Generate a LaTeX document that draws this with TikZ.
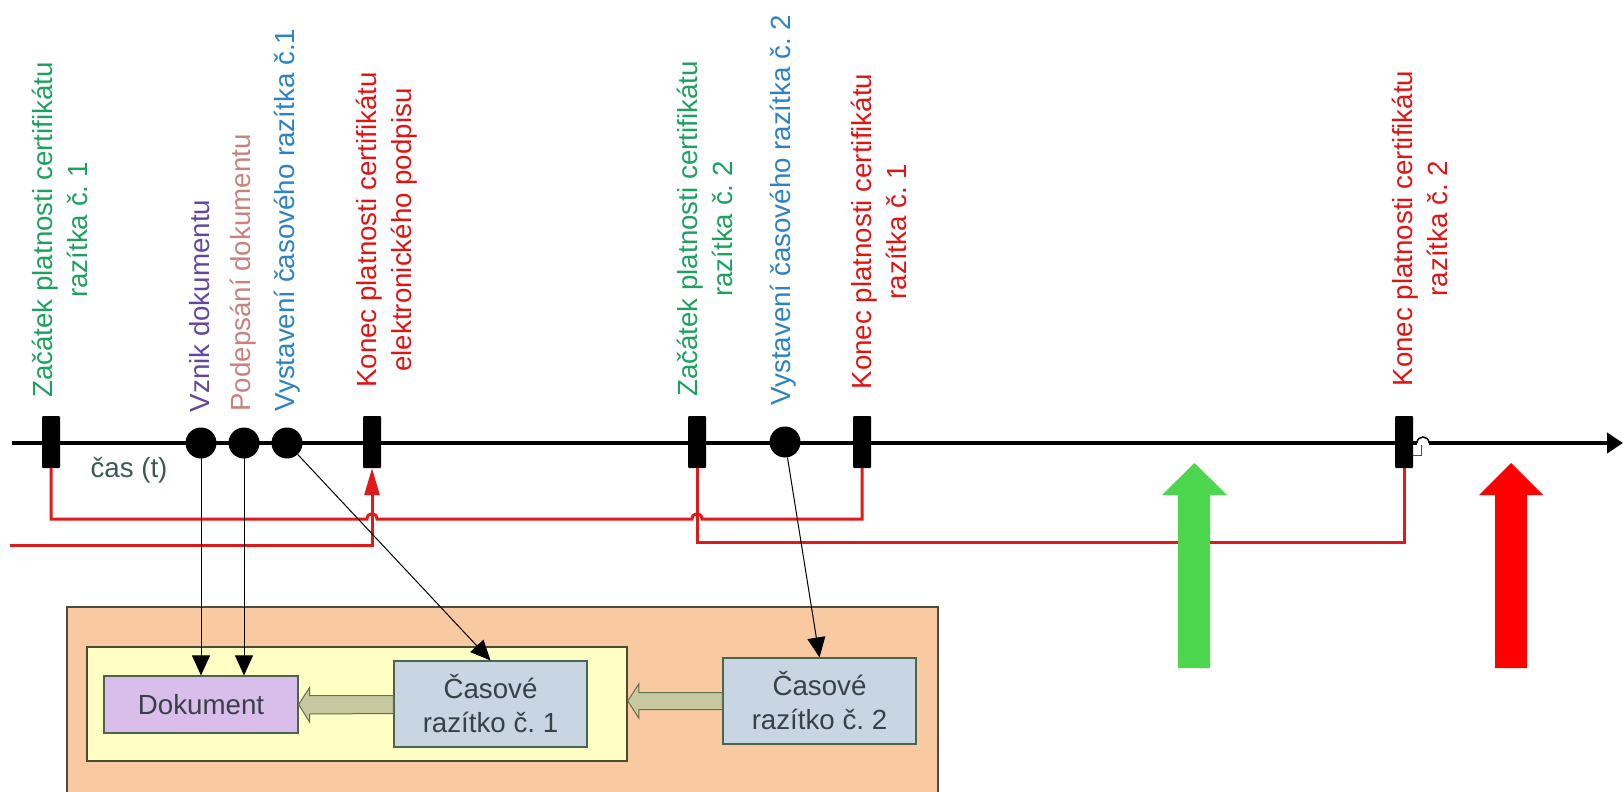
\documentclass[tikz,border=0pt]{standalone}
\usepackage{fontspec}
\setmainfont{Liberation Sans}
\usetikzlibrary{arrows.meta,calc}
\definecolor{lgreen}{RGB}{30,160,95}
\definecolor{lpurple}{RGB}{100,70,160}
\definecolor{lrose}{RGB}{200,130,125}
\definecolor{lblue}{RGB}{45,130,195}
\definecolor{lred}{RGB}{225,20,20}
\definecolor{cline}{RGB}{225,25,25}
\definecolor{castext}{RGB}{60,90,80}
\definecolor{outerfill}{RGB}{249,201,162}
\definecolor{outerdraw}{RGB}{80,75,65}
\definecolor{yelfill}{RGB}{255,255,196}
\definecolor{yeldraw}{RGB}{75,75,50}
\definecolor{docfill}{RGB}{217,190,235}
\definecolor{boxdraw}{RGB}{75,100,80}
\definecolor{tsfill}{RGB}{200,213,226}
\definecolor{boxtext}{RGB}{55,65,70}
\definecolor{hollowfill}{RGB}{200,200,160}
\definecolor{hollowdraw}{RGB}{100,110,80}
\definecolor{biggreen}{RGB}{76,215,78}
\definecolor{bigred}{RGB}{255,0,0}
\frenchspacing
\begin{document}
\begin{tikzpicture}[x=1pt,y=-1pt,
  lbl/.style={rotate=90,align=center,inner sep=0pt,font=\fontsize{27.7}{35}\selectfont},
  marker/.style={fill=black,draw=none,minimum width=18pt,minimum height=52pt,inner sep=0pt,rounded corners=1pt},
  dot/.style={circle,fill=black,minimum size=31pt,inner sep=0pt},
  box/.style={draw=boxdraw,line width=1.2pt,inner sep=0pt,align=center,text=boxtext,font=\fontsize{27.7}{34}\selectfont},
  redline/.style={color=cline,line width=3pt},
  conn/.style={draw=black,line width=1pt,-{Triangle[length=20pt,width=18pt]}},
  hollow/.style={fill=hollowfill,draw=hollowdraw,line width=1pt},
]
\path[use as bounding box] (0,0) rectangle (1623,792);

% containers
\begin{scope}
\clip (0,0) rectangle (1623,792);
\node[draw=outerdraw,fill=outerfill,line width=1.5pt,minimum width=871pt,minimum height=193pt,inner sep=0pt] (outer) at (502.5,703.5) {};
\end{scope}
\node[draw=yeldraw,fill=yelfill,line width=1.5pt,minimum width=540pt,minimum height=114pt,inner sep=0pt] (yel) at (357,704) {};
\node[box,fill=docfill,minimum width=194pt,minimum height=57pt] (doc) at (201,704.5) {Dokument};
\node[box,fill=tsfill,minimum width=193pt,minimum height=86pt] (c1) at (490.5,704) {Časové\\razítko č. 1};
\node[box,fill=tsfill,minimum width=193pt,minimum height=86pt] (c2) at (819.5,701) {Časové\\razítko č. 2};

% hollow arrows
\draw[hollow] (doc.east) -- ($(doc.east)+(11,-17)$) -- ($(doc.east)+(11,-9)$) -- ($(c1.west)+(0,-8.5)$) -- ($(c1.west)+(0,9.5)$) -- ($(doc.east)+(11,9.5)$) -- ($(doc.east)+(11,17.5)$) -- cycle;
\coordinate (h2tip) at (yel.east |- c2.west);
\draw[hollow] (h2tip) -- ($(h2tip)+(11,-17)$) -- ($(h2tip)+(11,-8.5)$) -- ($(c2.west)+(0,-8.5)$) -- ($(c2.west)+(0,8.5)$) -- ($(h2tip)+(11,8.5)$) -- ($(h2tip)+(11,17)$) -- cycle;

% timeline
\coordinate (tl0) at (12,443);
\coordinate (tl1) at (1623,443);
\coordinate (hopa) at (1417,443);
\coordinate (hopb) at (1429,443);
\draw[line width=4pt] (tl0) -- (hopa);
\draw[line width=4pt,-{Triangle[length=16pt,width=20pt]}] (hopb) -- (tl1);
\draw[line width=1.5pt] (hopa) .. controls (1417,435) and (1429,435) .. (hopb);
\draw[line width=1pt,color=black!70] (1413,455) -- (1421,455) -- (1421,445);

% markers
\node[marker] (m1) at (51,442) {};
\node[marker] (m2) at (372,442) {};
\node[marker] (m3) at (697,442) {};
\node[marker] (m4) at (862,442) {};
\node[marker] (m5) at (1404,442) {};

% red connectors
\draw[redline] (m1.south) -- (51,519) -- (367,519) .. controls (367,512) and (377,512) .. (377,519) -- (692,519) .. controls (692,512) and (702,512) .. (702,519) -- (862,519) -- (m4.south);
\coordinate (lredstart) at (10,545);
\draw[redline,-{Triangle[length=27pt,width=15pt]}] (lredstart) -- (372,545) -- (m2.south);
\draw[redline] (m3.south) -- (697,542) -- (1404,542) -- (m5.south);

% dots
\node[dot] (d1) at (201,443) {};
\node[dot] (d2) at (244,443) {};
\node[dot] (d3) at (287,443) {};
\node[dot] (d4) at (785,442) {};

% black connectors
\draw[conn] (d1.center) -- (d1.center |- doc.north);
\draw[conn] (d2.center) -- (d2.center |- doc.north);
\draw[conn] (d3) -- (c1.north);
\draw[conn] (d4) -- (c2.north);

% labels
\node[lbl,text=lgreen] (lab1) at (60,230) {Začátek platnosti certifikátu\\razítka č. 1};
\node[lbl,text=lpurple] (lab2) at (200,306) {Vznik dokumentu};
\node[lbl,text=lrose] (lab3) at (243,273) {Podepsání dokumentu};
\node[lbl,text=lblue] (lab4) at (287,220) {Vystavení časového razítka č.1};
\node[lbl,text=lred] (lab5) at (386.5,230) {Konec platnosti certifikátu\\elektronického podpisu};
\node[lbl,text=lgreen] (lab6) at (705,229) {Začátek platnosti certifikátu\\razítka č. 2};
\node[lbl,text=lblue] (lab7) at (783,210) {Vystavení časového razítka č. 2};
\node[lbl,text=lred] (lab8) at (879,231.5) {Konec platnosti certifikátu\\razítka č. 1};
\node[lbl,text=lred] (lab9) at (1420,228.5) {Konec platnosti certifikátu\\razítka č. 2};
\node[inner sep=0pt,text=castext,font=\fontsize{27.7}{34}\selectfont] (cas) at (129,470) {čas (t)};

% big arrows
\fill[biggreen] (1178,668) -- (1178,495) -- (1162,495) -- (1194.5,463) -- (1227,495) -- (1210,495) -- (1210,668) -- cycle;
\fill[bigred] (1495,668) -- (1495,495) -- (1479,495) -- (1511,463) -- (1543,495) -- (1527,495) -- (1527,668) -- cycle;
\end{tikzpicture}
\end{document}
